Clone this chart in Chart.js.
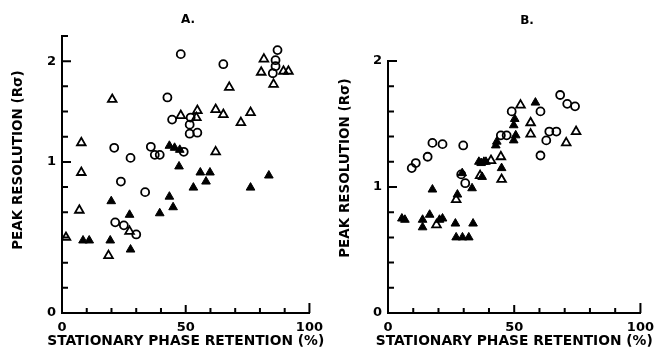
<!DOCTYPE html>
<html>
<head>
<meta charset="utf-8">
<script src="https://cdn.jsdelivr.net/npm/chart.js@4/dist/chart.umd.min.js"></script>
<style>
  html, body { margin: 0; padding: 0; background: #fff; }
  #wrap { position: relative; width: 661px; height: 352px; }
  #panelA { position: absolute; left: 0; top: 0; }
  #panelB { position: absolute; left: 330px; top: 0; }
</style>
</head>
<body>
<div id="wrap">
  <canvas id="panelA" width="330" height="352"></canvas>
  <canvas id="panelB" width="331" height="352"></canvas>
</div>
<script>
// data: [stationary phase retention %, peak resolution]
const aOpenCircles = [
  [48, 2.07], [65.2, 1.97], [87.1, 2.11], [86.3, 2.01], [86.3, 1.95], [85.2, 1.88],
  [42.6, 1.64], [44.5, 1.42], [52, 1.44], [51.6, 1.37], [51.6, 1.28], [54.7, 1.29],
  [35.9, 1.15], [37.5, 1.07], [39.5, 1.07], [27.7, 1.04], [21.1, 1.14], [49.2, 1.10],
  [23.8, 0.87], [33.6, 0.80], [21.5, 0.60], [25, 0.58], [30, 0.52]
];
const aOpenTriangles = [
  [20.3, 1.62], [7.8, 1.19], [7.8, 0.93], [7, 0.68], [1.6, 0.50], [18.8, 0.38],
  [27.3, 0.54], [54.7, 1.51], [48, 1.46], [62.1, 1.52], [65.2, 1.47], [72.3, 1.39],
  [76.2, 1.49], [67.6, 1.74], [81.6, 2.02], [80.5, 1.89], [85.5, 1.77], [54.3, 1.44],
  [62.1, 1.10], [89.5, 1.90], [91.5, 1.90]
];
const aFilledTriangles = [
  [43.4, 1.16], [45.5, 1.14], [47.6, 1.12], [55.9, 0.93], [59.8, 0.93], [58.2, 0.87],
  [53.1, 0.83], [76.2, 0.83], [83.6, 0.91], [43.4, 0.77], [44.9, 0.70], [39.5, 0.66],
  [19.9, 0.74], [27.3, 0.65], [8.5, 0.48], [11, 0.48], [19.5, 0.48], [27.7, 0.42],
  [47.3, 0.97]
];

const bOpenCircles = [
  [17.6, 1.35], [21.6, 1.34], [29.8, 1.33], [15.7, 1.24], [11, 1.19], [9.4, 1.15],
  [29, 1.10], [30.6, 1.03], [49, 1.60], [60.4, 1.60], [68.2, 1.73], [71, 1.66],
  [74.1, 1.64], [63.9, 1.44], [66.7, 1.44], [62.7, 1.37], [60.4, 1.25], [44.7, 1.41],
  [47, 1.41]
];
const bOpenTriangles = [
  [52.5, 1.65], [56.5, 1.51], [56.5, 1.42], [74.5, 1.44], [70.6, 1.35], [44.7, 1.24],
  [45, 1.06], [40.8, 1.21], [36.5, 1.09], [19.2, 0.70], [27, 0.90]
];
const bFilledTriangles = [
  [5.5, 0.75], [6.7, 0.74], [13.7, 0.74], [13.7, 0.68], [16.5, 0.78], [20.4, 0.74],
  [21.6, 0.75], [17.6, 0.98], [26.7, 0.71], [33.7, 0.71], [27.5, 0.94], [27, 0.60],
  [29.5, 0.60], [32, 0.60], [36, 1.20], [38, 1.20], [33.3, 0.99], [29.4, 1.11],
  [43.1, 1.36], [42.7, 1.33], [49.8, 1.49], [50.2, 1.54], [38.8, 1.20], [36.9, 1.19],
  [37.3, 1.08], [58.4, 1.67], [45, 1.15], [50.6, 1.41], [49.8, 1.37]
];

// tick values
const xTicks = [0, 10, 20, 30, 40, 50, 60, 70, 80, 90, 100];
const xTickLabels = [0, 50, 100];
// panel A axis is stretched below 1 (six ticks from 0 to 1, four from 1 to 2)
const aYTicks = [0, 0.1667, 0.3333, 0.5, 0.6667, 0.8333, 1, 1.25, 1.5, 1.75, 2, 2.25];
const bYTicks = [0, 0.2, 0.4, 0.6, 0.8, 1, 1.2, 1.4, 1.6, 1.8, 2];
const yTickLabels = [0, 1, 2];

const xTitle = "STATIONARY PHASE RETENTION (%)";
const yTitle = "PEAK RESOLUTION (R\u03C3)";

const FONT = "'DejaVu Sans', 'Liberation Sans', Arial, sans-serif";
Chart.defaults.font.family = FONT;
Chart.defaults.color = "#000";

// y scale of panel A: values below 1 take 1.5x the room of values above 1
class BrokenLinearScale extends Chart.LinearScale {
  static id = "brokenLinear";
  toDisplay(v) { return v < 1 ? 1 - (1 - v) * 1.5 : v; }
  fromDisplay(d) { return d < 1 ? 1 - (1 - d) / 1.5 : d; }
  getPixelForValue(value) {
    const lo = this.toDisplay(this.min), hi = this.toDisplay(this.max);
    return this.getPixelForDecimal((this.toDisplay(value) - lo) / (hi - lo));
  }
  getValueForPixel(pixel) {
    const lo = this.toDisplay(this.min), hi = this.toDisplay(this.max);
    return this.fromDisplay(lo + this.getDecimalForPixel(pixel) * (hi - lo));
  }
}
Chart.register(BrokenLinearScale);

// draws the panel letter, the axis titles and the inward tick marks
// (axis titles drawn here so they are not squeezed to the axis width)
const panelDecor = {
  id: "panelDecor",
  afterDraw(chart, args, opts) {
    const ctx = chart.ctx;
    const xs = chart.scales.x, ys = chart.scales.y;
    const area = chart.chartArea;
    ctx.save();
    ctx.strokeStyle = "#000";
    ctx.lineWidth = 2;
    ctx.beginPath();
    xTicks.forEach(v => {
      const px = xs.getPixelForValue(v);
      const len = v === 100 ? 10 : (v === 50 ? 8 : 5);
      ctx.moveTo(px, area.bottom);
      ctx.lineTo(px, area.bottom - len);
    });
    opts.yTicks.forEach(v => {
      const py = ys.getPixelForValue(v);
      const len = yTickLabels.includes(v) ? 9 : 6;
      ctx.moveTo(area.left, py);
      ctx.lineTo(area.left + len, py);
    });
    ctx.stroke();

    ctx.fillStyle = "#000";
    ctx.textAlign = "center";
    ctx.textBaseline = "middle";
    ctx.font = "bold 12px " + FONT;
    ctx.fillText(opts.letter, opts.letterX, opts.letterY);
    ctx.font = "bold 13.8px " + FONT;
    ctx.fillText(xTitle, (area.left + area.right) / 2, 341);
    ctx.font = "bold 13.5px " + FONT;
    ctx.translate(opts.yTitleX, opts.yTitleY);
    ctx.rotate(-Math.PI / 2);
    ctx.fillText(yTitle, 0, 0);
    ctx.restore();
  }
};

function toPoints(arr) {
  return arr.map(p => ({ x: p[0], y: p[1] }));
}

function makeDatasets(circles, openTri, filledTri) {
  return [
    {
      label: "open circles",
      data: toPoints(circles),
      pointStyle: "circle",
      pointRadius: 4,
      borderWidth: 1.8,
      borderColor: "#000",
      backgroundColor: "rgba(255,255,255,0)",
    },
    {
      label: "open triangles",
      data: toPoints(openTri),
      pointStyle: "triangle",
      pointRadius: 5,
      borderWidth: 1.8,
      borderColor: "#000",
      backgroundColor: "rgba(255,255,255,0)",
    },
    {
      label: "filled triangles",
      data: toPoints(filledTri),
      pointStyle: "triangle",
      pointRadius: 5,
      borderWidth: 1,
      borderColor: "#000",
      backgroundColor: "#000",
    },
  ];
}

function makeConfig(p) {
  return {
    type: "scatter",
    data: { datasets: makeDatasets(p.circles, p.openTri, p.filledTri) },
    plugins: [panelDecor],
    options: {
      responsive: false,
      animation: false,
      devicePixelRatio: 1,
      layout: { padding: { top: p.top, right: p.right, bottom: 0, left: 0 } },
      plugins: {
        legend: { display: false },
        tooltip: { enabled: false },
        panelDecor: p.decor,
      },
      scales: {
        x: {
          type: "linear",
          min: 0,
          max: 100,
          afterBuildTicks: s => { s.ticks = xTicks.map(v => ({ value: v })); },
          afterFit: s => { s.height = 39; },
          grid: { display: false, drawTicks: false },
          border: { display: true, color: "#000", width: 2 },
          ticks: {
            padding: 7,
            maxRotation: 0,
            autoSkip: false,
            font: { size: 13, weight: "bold" },
            callback: v => (xTickLabels.includes(v) ? String(v) : ""),
          },
        },
        y: {
          type: p.yType,
          min: 0,
          max: p.yMax,
          afterBuildTicks: s => { s.ticks = p.yTicks.map(v => ({ value: v })); },
          afterFit: s => { s.width = p.yWidth; },
          grid: { display: false, drawTicks: false },
          border: { display: true, color: "#000", width: 2 },
          ticks: {
            padding: 6,
            autoSkip: false,
            font: { size: 13, weight: "bold" },
            callback: v => (yTickLabels.includes(v) ? String(v) : ""),
          },
        },
      },
    },
  };
}

new Chart(document.getElementById("panelA"), makeConfig({
  circles: aOpenCircles, openTri: aOpenTriangles, filledTri: aFilledTriangles,
  yType: "brokenLinear", yMax: 2.25, yTicks: aYTicks,
  top: 36, right: 12, yWidth: 62,
  decor: { letter: "A.", letterX: 188, letterY: 20, yTitleX: 18, yTitleY: 160, yTicks: aYTicks },
}));

new Chart(document.getElementById("panelB"), makeConfig({
  circles: bOpenCircles, openTri: bOpenTriangles, filledTri: bFilledTriangles,
  yType: "linear", yMax: 2, yTicks: bYTicks,
  top: 61, right: 18, yWidth: 58,
  decor: { letter: "B.", letterX: 197, letterY: 21, yTitleX: 15, yTitleY: 168, yTicks: bYTicks },
}));
</script>
</body>
</html>
